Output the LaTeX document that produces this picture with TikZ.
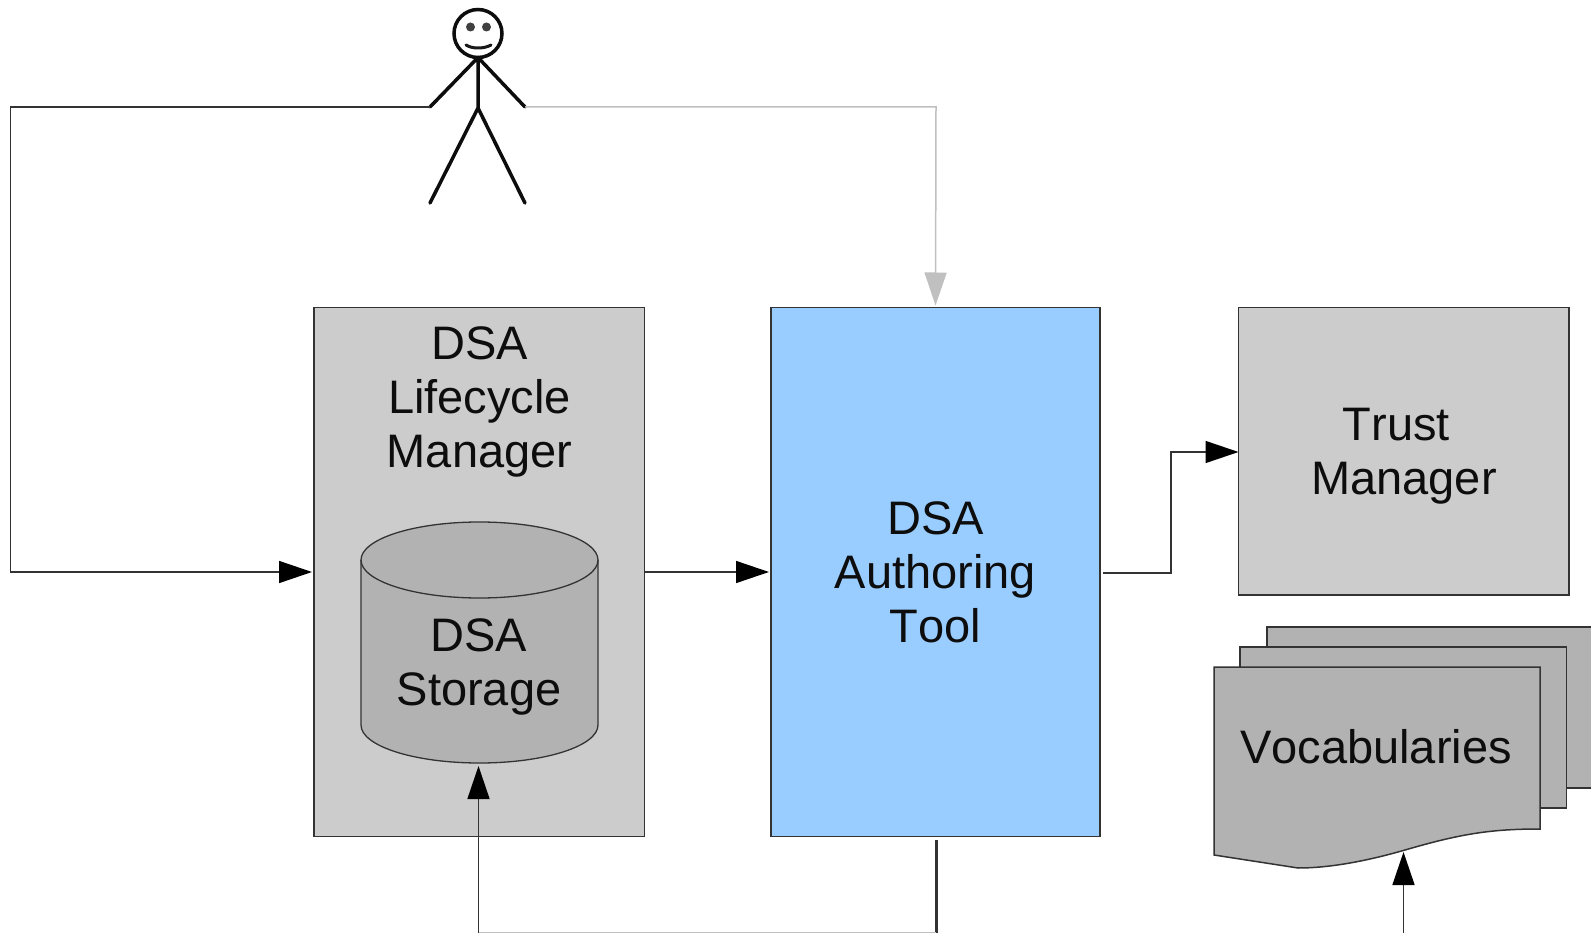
\documentclass[tikz,border=0pt]{standalone}
\usepackage{fontspec}
\setmainfont[Kerning=Off]{Liberation Sans}
\usetikzlibrary{arrows.meta}
\definecolor{boxgray}{HTML}{CCCCCC}
\definecolor{darkgray}{HTML}{B2B2B2}
\definecolor{toolblue}{HTML}{99CCFF}
\definecolor{edgegray}{HTML}{333333}
\definecolor{lightline}{HTML}{C0C0C0}
\tikzset{
  every node/.style={inner sep=0pt,outer sep=0pt},
  label text/.style={align=center,text=black!95,font=\fontsize{47}{54}\selectfont},
  box/.style={draw=edgegray,line width=1.3pt,anchor=north west,label text},
  doc/.style={draw=edgegray,line width=1.5pt,fill=darkgray},
  flow/.style={draw=edgegray,line width=1.5pt,shorten >=2pt,-{Triangle[length=33pt,width=22pt,color=black]}},
  plainline/.style={draw=edgegray,line width=1.5pt},
  stick/.style={draw=black!95,line width=3.5pt,line cap=round,line join=round},
}
\begin{document}
\begin{tikzpicture}[x=1pt,y=-1pt]
\useasboundingbox[fill=white] (0,0) rectangle (1591,933);
% boxes
\node[box,fill=boxgray,minimum width=330.5pt,minimum height=529pt] (lifecycle) at (314,307.5) {};
\node[label text,anchor=center] (lifecycleText) at (479.5,402) {DSA\\Lifecycle\\Manager};
\node[box,fill=toolblue,minimum width=329pt,minimum height=529pt] (tool) at (771,307.5) {DSA\\Authoring\\Tool};
\node[box,fill=boxgray,minimum width=330.5pt,minimum height=287.5pt] (trust) at (1238.5,307.5) {};
\node[label text] (trustText) at (1404,456.5) {Trust\rule{15pt}{0pt}\\Manager};
% cylinder
\path[draw=edgegray,line width=1.3pt,fill=darkgray]
  (361,560) -- (361,725) arc[start angle=180,end angle=360,x radius=118.5pt,y radius=38pt]
  -- (598,560) arc[start angle=0,end angle=180,x radius=118.5pt,y radius=38pt] -- cycle;
\draw[edgegray,line width=1.3pt] (361,560) arc[start angle=180,end angle=360,x radius=118.5pt,y radius=38pt];
\coordinate (storageIn) at (479.5,763);
\node[label text] (storageText) at (479,667) {DSA\\Storage};
% documents
\path[doc] (1267,788) -- (1267,627) -- (1600,627) -- (1600,788) -- cycle;
\path[doc] (1240,808) -- (1240,647) -- (1566.5,647) -- (1566.5,808) -- cycle;
\path[doc] (1214,855) -- (1214,667) -- (1540,667) -- (1540,829)
  .. controls (1490,829) and (1460,834) .. (1405,850)
  .. controls (1360,863) and (1325,868) .. (1298,868)
  -- cycle;
\node[label text] (vocab) at (1376,747) {Vocabularies};
\coordinate (vocabIn) at (1403.5,852);
% stick figure
\node[draw=black!95,line width=3.5pt,circle,minimum size=48pt] (head) at (478,33.5) {};
\fill[black!75] (470.5,27) circle (4.5pt) (486.5,27) circle (4.5pt);
\draw[line width=3pt,black!90,line cap=round] (466,45) .. controls (472,49) and (484,49) .. (491,45);
\coordinate (lhand) at (430,107);
\coordinate (rhand) at (525,107);
\coordinate (hip) at (478,108);
\coordinate (lfoot) at (430,203);
\coordinate (rfoot) at (525,203);
\draw[stick] (head.south) -- (hip) -- (lfoot) (hip) -- (rfoot) (lhand) -- (head.south) -- (rhand);
% connectors
\coordinate (bottomMid) at (936,932.5);
\coordinate (toolOut) at (936,840);
\coordinate (storageBase) at (478.5,932.5);
\coordinate (vocabBase) at (1403.5,933);
\draw[flow] (lhand) -- (10.5,107) -- (10.5,572) -- (lifecycle.west |- 0,572);
\draw[flow,draw=lightline,-{Triangle[length=33pt,width=22pt,color=lightline]}] (rhand) -- (936,107) -- (tool.north);
\draw[flow] (lifecycle.east |- 0,572) -- (tool.west |- 0,572);
\draw[flow,shorten >=0pt] (1103,573) -- (1171,573) -- (1171,452) -- (trust.west |- 0,452);
\draw[plainline,line width=3pt] (toolOut) -- (bottomMid);
\draw[lightline,line width=2pt] (storageBase) -- (bottomMid);
\draw[flow,shorten >=3pt] (storageBase) -- (storageBase |- storageIn);
\draw[flow,shorten >=0pt] (vocabBase) -- (vocabIn);
\end{tikzpicture}
\end{document}
